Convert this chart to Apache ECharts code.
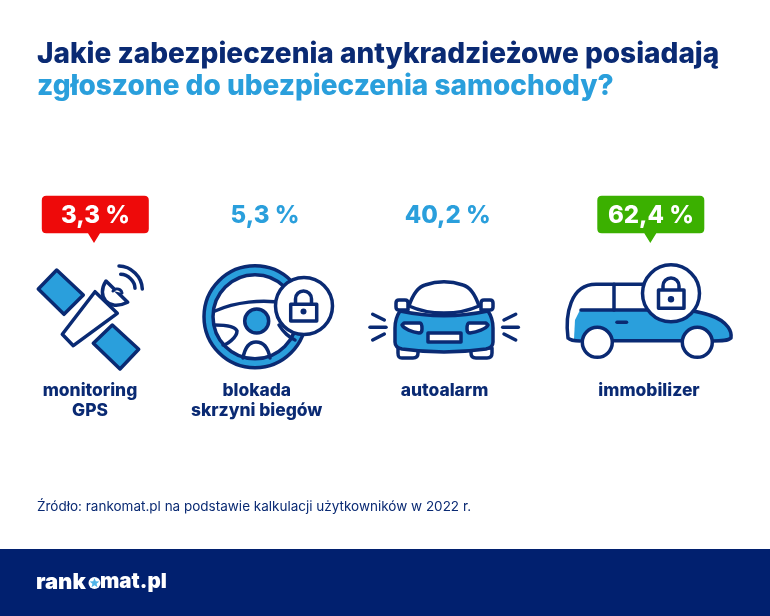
<!DOCTYPE html>
<html><head><meta charset="utf-8">
<style>html,body{margin:0;padding:0;background:#fff}#c{width:770px;height:616px}</style>
<script src="https://cdn.jsdelivr.net/npm/echarts@6/dist/echarts.min.js"></script></head>
<body><div id="c"></div>
<script>
const categories = ['monitoring\nGPS', 'blokada\nskrzyni biegów', 'autoalarm', 'immobilizer'];
const values = [3.3, 5.3, 40.2, 62.4];
const titleLines = ['Jakie zabezpieczenia antykradzieżowe posiadają', 'zgłoszone do ubezpieczenia samochody?'];
const sourceText = 'Źródło: rankomat.pl na podstawie kalkulacji użytkowników w 2022 r.';

const NAVY = '#0a2a73', BLUE = '#2a9fdc', RED = '#ee0a0a', GREEN = '#3bb000', FOOT = '#01206f';
const FONT = 'Inter, "Open Sans", sans-serif';
const valueX = [95.5, 265, 447.7, 651];
const labelX = [90, 256.7, 444.5, 649];
const LW = 3.5;

const P = (d, fill, sw) => ({type:'path', shape:{pathData:d}, style:{fill:fill||'none', stroke:sw===0?'none':NAVY, lineWidth:sw===undefined?LW:sw, lineCap:'round', lineJoin:'round'}});
const C = (x,y,r,fill,sw) => ({type:'circle', shape:{cx:x,cy:y,r}, style:{fill:fill||'none', stroke:sw===0?'none':NAVY, lineWidth:sw===undefined?LW:sw}});
const lock = (x0,y0,x1,y1,sx0,sx1,top,kx,ky,kr) => [
  P(`M${sx0} ${y0}L${sx0} ${top+8}A${(sx1-sx0)/2} ${(sx1-sx0)/2} 0 0 1 ${sx1} ${top+8}L${sx1} ${y0}`),
  P(`M${x0} ${y0}L${x1} ${y0}L${x1} ${y1}L${x0} ${y1}Z`, '#fff'),
  C(kx,ky,kr,NAVY,0)
];
const icons = [
  () => [
    P('M56.7 270L83.3 295L64 314.3L38.3 289Z', BLUE),
    P('M112.3 325L138.7 349.3L120 369L93.3 343.3Z', BLUE),
    P('M95 291.7L117.3 313.3L73.3 345.7L62.3 334.3Z', '#fff'),
    P('M106 281C96 296 108 312 127.7 302.3Z', '#fff'),
    P('M113 291A5 5 0 0 1 122 293', '#fff', 3),
    P('M119 266C131 266 142 277 142.3 289'),
    P('M120.7 274.3C128 274.5 135 281 135 288.3')
  ],
  () => [
    {type:'circle', shape:{cx:255,cy:316.7,r:46.5}, style:{fill:'#fff', stroke:BLUE, lineWidth:9}},
    C(255,316.7,51,'none'),
    C(255,316.7,42,'none'),
    P('M215 311C235 302 262 299 284 303'),
    C(256.7,321,12,BLUE),
    P('M215 325C225 325 235 326 237 331C237 338 226 345 223 345'),
    P('M243 358C245 347 250 342 256 342C263 342 268 347 270 358'),
    P('M279 325C283 332 290 338 295 340'),
    C(304,306,28.5,'#fff'),
    ...lock(290.7,304.3,316.7,321,295.5,311.5,291,303.5,311.5,3)
  ],
  () => [
    P('M399 300L405 300Q408 300 408 303L408 310L399 310Q396 310 396 307L396 303Q396 300 399 300Z', '#fff'),
    P('M481 303Q481 300 484 300L490 300Q493 300 493 303L493 307Q493 310 490 310L481 310Z', '#fff'),
    P('M398 348L418 348L418 353C418 357 416 358 413 358L402 358C399 358 398 357 398 353Z', '#fff'),
    P('M471 348L492 348L492 353C492 357 490 358 487 358L476 358C473 358 471 357 471 353Z', '#fff'),
    P('M400 311C396 317 395 322 395 328L395 342C395 346 397 348 402 349C430 353 458 353 486 349C491 348 493 346 493 342L493 328C493 322 492 317 488 311C460 317 428 317 400 311Z', BLUE),
    P('M409 306C413 294 418 287 425 285C437 281 451 281 463 285C470 287 475 294 479 306C468 311 455 313 444 313C433 313 420 311 409 306Z', '#fff'),
    P('M404 323L420 323C421.5 323 422 325 422 329C422 332 421 333 419 333C412 332 404 329 402 325Z', '#fff'),
    P('M486 323L469 323C467.5 323 467 325 467 329C467 332 468 333 470 333C477 332 486 329 488 325Z', '#fff'),
    P('M428 333L461 333L461 342L428 342Z', '#fff'),
    P('M372.7 314.3L384.3 320'), P('M370 327.3L386 327.3'), P('M372.7 340L384.3 334'),
    P('M504 320L515.7 314.3'), P('M502.7 327.3L518.3 327.3'), P('M504 334L515.7 340')
  ],
  () => [
    P('M580 310L698 311C713 313 727 322 731 332L731 339L712 341L583 341L574 339L575 320Z', BLUE, 0),
    P('M568 338C565 315 570 284.3 596 284.3L650 284.3M680 310C700 311 720 316 728 327C731 331 731.5 334 731 338C728 341 722 341 712 341M582 340.7L712 340.7M568 338C570 340 575 341 580 341'),
    P('M581 310L652 310'),
    P('M614 284.3L614 310'),
    P('M617 322.3L626.5 322.3'),
    C(597.3,342.3,15,'#fff'),
    C(697.3,342.3,15,'#fff'),
    C(671,293.3,28.5,'#fff'),
    ...lock(658.5,290,684,308.3,663,679,278,671,299.3,3.2)
  ]
];

const chart = echarts.init(document.getElementById('c'), null, {renderer:'canvas'});
chart.setOption({
  animation:false,
  backgroundColor:'#fff',
  grid:{left:0,right:0,top:0,bottom:0},
  xAxis:{type:'value',min:0,max:770,show:false},
  yAxis:{type:'value',min:0,max:616,inverse:true,show:false},
  graphic:[
    {type:'rect',shape:{x:0,y:549,width:770,height:67},style:{fill:FOOT}},
    {type:'text',x:37,y:55,style:{text:titleLines[0],fill:NAVY,font:'800 28px '+FONT,verticalAlign:'middle'}},
    {type:'text',x:37,y:87,style:{text:titleLines[1],fill:BLUE,font:'800 28px '+FONT,verticalAlign:'middle'}},
    {type:'text',x:37,y:507,style:{text:sourceText,fill:NAVY,font:'400 13.5px '+FONT,verticalAlign:'middle'}},
    {type:'text',x:36,y:582,style:{text:'rank',fill:'#fff',font:'900 22px '+FONT,verticalAlign:'middle'}},
    {type:'circle',shape:{cx:94.5,cy:583,r:6},style:{fill:'#fff'}},
    {type:'polygon',shape:{points:[[94.5,578],[95.8,581.3],[99.3,581.5],[96.6,583.8],[97.5,587.2],[94.5,585.3],[91.5,587.2],[92.4,583.8],[89.7,581.5],[93.2,581.3]]},style:{fill:'#4fb4e8'}},
    {type:'text',x:100,y:582,style:{text:'mat.pl',fill:'#fff',font:'900 20.5px '+FONT,verticalAlign:'middle'}}
  ],
  series:[{
    type:'custom',
    coordinateSystem:'cartesian2d',
    clip:false,
    silent:true,
    data:values.map((v,i)=>[valueX[i],v,i]),
    encode:{x:0,y:1},
    renderItem:(params,api)=>{
      const i = api.value(2), v = api.value(1);
      const [cx] = api.coord([valueX[i],0]);
      const isMin = v === Math.min(...values), isMax = v === Math.max(...values);
      const kids = [];
      if (isMin || isMax) {
        const x0 = cx-53.7, x1 = cx+53.3, px = isMin ? 94 : 650.3, r = 4.5;
        const col = isMin ? RED : GREEN;
        kids.push({type:'path',shape:{pathData:`M${x0+r} 195.7L${x1-r} 195.7Q${x1} 195.7 ${x1} ${195.7+r}L${x1} ${233.3-r}Q${x1} 233.3 ${x1-r} 233.3L${px+6} 233.3L${px} 243L${px-6} 233.3L${x0+r} 233.3Q${x0} 233.3 ${x0} ${233.3-r}L${x0} ${195.7+r}Q${x0} 195.7 ${x0+r} 195.7Z`},style:{fill:col}});
      }
      kids.push({type:'text',style:{text:v.toFixed(1).replace('.',',')+' %',x:cx,y:216,align:'center',verticalAlign:'middle',fill:(isMin||isMax)?'#fff':BLUE,font:'800 24px '+FONT}});
      kids.push(...icons[i]());
      categories[i].split('\n').forEach((t,k)=>kids.push({type:'text',style:{text:t,x:labelX[i],y:390.5+k*20.5,align:'center',verticalAlign:'middle',fill:NAVY,font:'800 17.4px '+FONT}}));
      return {type:'group',children:kids};
    }
  }]
});
</script></body></html>
